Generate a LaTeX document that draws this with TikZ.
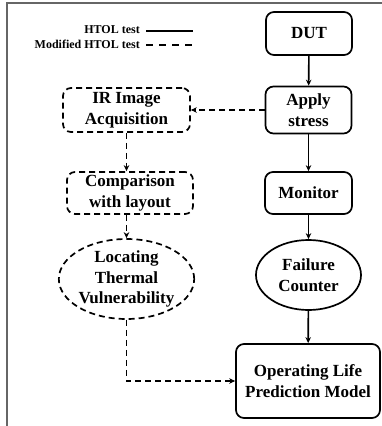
\documentclass[tikz,border=0pt]{standalone}
\usepackage{fontspec}
\setmainfont{Liberation Serif}
\usetikzlibrary{shapes.geometric,arrows.meta}

\begin{document}
\begin{tikzpicture}[x=1pt,y=-1pt,
    stepbox/.style={draw, rounded corners=8pt, line width=1.7pt, align=center,
        inner sep=0pt, font=\fontsize{17}{20.5}\selectfont\bfseries},
    ovalbox/.style={ellipse, draw, line width=1.7pt, align=center,
        inner sep=0pt, font=\fontsize{17}{20.5}\selectfont\bfseries},
    modified/.style={dash pattern=on 6pt off 4pt},
    flow/.style={-{Stealth[length=6pt,width=5.5pt]}, line width=1.6pt},
    legend/.style={anchor=east, inner sep=0pt, font=\fontsize{12}{14}\selectfont\bfseries}]
    \useasboundingbox (0,0) rectangle (382,426);
    % frame
    \draw[line width=1.3pt, black!60] (7,426) -- (7,3) -- (382,3);
    % legend
    \node[legend] (htol) at (140,30) {HTOL test};
    \node[legend] (modhtol) at (140,44) {Modified HTOL test};
    \coordinate (solidA) at (146,31);
    \coordinate (solidB) at (193,31);
    \coordinate (dashA) at (146,45);
    \coordinate (dashB) at (193,45);
    \draw[line width=1.7pt] (solidA) -- (solidB);
    \draw[line width=1.7pt, dash pattern=on 7pt off 6pt] (dashA) -- (dashB);
    % HTOL test
    \node[stepbox, minimum width=86pt, minimum height=43pt] (dut) at (309,33.5) {DUT};
    \node[stepbox, minimum width=86pt, minimum height=47pt] (apply) at (308.5,110) {Apply\\stress};
    \node[stepbox, minimum width=87pt, minimum height=42pt] (monitor) at (308.5,193) {Monitor};
    \node[ovalbox, minimum width=105pt, minimum height=70pt] (failure) at (308.5,275) {Failure\\Counter};
    \node[stepbox, minimum width=144pt, minimum height=74pt] (model) at (308,381) {Operating Life\\Prediction Model};
    % modified HTOL test
    \node[stepbox, modified, minimum width=127pt, minimum height=44pt] (ir) at (126.5,110) {IR Image\\Acquisition};
    \node[stepbox, modified, minimum width=126pt, minimum height=42pt] (compare) at (130,193) {Comparison\\with layout};
    \node[ovalbox, modified, minimum width=135pt, minimum height=80pt] (locate) at (126.5,279) {Locating\\Thermal\\Vulnerability};
    \draw[flow] (dut) -- (apply);
    \draw[flow] (apply) -- (monitor);
    \draw[flow] (monitor) -- (failure);
    \draw[flow] (failure) -- (model);
    \draw[flow, modified] (apply) -- (ir);
    \draw[flow, modified] (ir.south) -- (ir.south |- compare.north);
    \draw[flow, modified] (compare.south -| locate.north) -- (locate.north);
    \draw[flow, modified] (locate.south) |- (model.west);
\end{tikzpicture}
\end{document}
